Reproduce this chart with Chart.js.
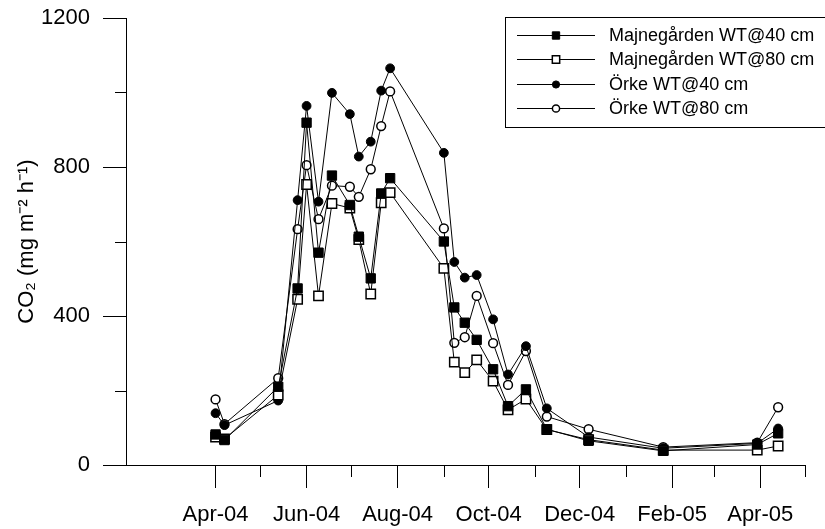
<!DOCTYPE html>
<html>
<head>
<meta charset="utf-8">
<title>CO2 flux</title>
<script src="https://cdn.jsdelivr.net/npm/chart.js"></script>
<style>
  html, body { margin: 0; padding: 0; background: #fff; }
  #chart { display: block; }
</style>
</head>
<body>
<canvas id="chart" width="825" height="529"></canvas>
<script>
// --- data ---
const sampleDates = [
    '2004-04-01', '2004-04-07', '2004-05-13', '2004-05-26', '2004-06-01', '2004-06-09',
    '2004-06-18', '2004-06-30', '2004-07-06', '2004-07-14', '2004-07-21', '2004-07-27',
    '2004-09-01', '2004-09-08', '2004-09-15', '2004-09-23', '2004-10-04', '2004-10-14',
    '2004-10-26', '2004-11-09', '2004-12-07', '2005-01-26', '2005-03-30', '2005-04-13'
];
const majne40 = [82, 67, 210, 474, 919, 570, 777, 698, 613, 501, 729, 770,
                 600, 423, 382, 336, 257, 158, 203, 96, 65, 38, 55, 85];
const majne80 = [75, 70, 188, 445, 753, 454, 702, 690, 605, 459, 704, 731,
                 528, 276, 248, 282, 225, 148, 177, 95, 68, 40, 40, 51];
const orke40 = [139, 107, 173, 711, 964, 707, 999, 942, 828, 868, 1005, 1065,
                838, 545, 503, 510, 391, 243, 319, 152, 75, 45, 58, 98];
const orke80 = [176, 110, 233, 633, 805, 660, 750, 747, 720, 794, 910, 1003,
                635, 328, 343, 454, 327, 215, 306, 130, 96, 48, 60, 155];

const seriesLabels = ['Majnegården WT@40 cm', 'Majnegården WT@80 cm', 'Örke WT@40 cm', 'Örke WT@80 cm'];

// axis ticks
const xStart = '2004-02-01';
const xEnd = '2005-05-01';
const xMajor = ['2004-04-01', '2004-06-01', '2004-08-01', '2004-10-01', '2004-12-01', '2005-02-01', '2005-04-01'];
const xMajorLabels = ['Apr-04', 'Jun-04', 'Aug-04', 'Oct-04', 'Dec-04', 'Feb-05', 'Apr-05'];
const xMinor = ['2004-05-01', '2004-07-01', '2004-09-01', '2004-11-01', '2005-01-01', '2005-03-01', '2005-05-01'];
const yMajor = [0, 400, 800, 1200];
const yMinor = [200, 600, 1000];

const toDay = s => Date.parse(s) / 86400000;

function points(values) {
    return sampleDates.map((d, i) => ({ x: toDay(d), y: values[i] }));
}

Chart.defaults.font.family = "'Liberation Sans', Arial, sans-serif";
Chart.defaults.color = '#000';

// small ticks between the labelled ones
const minorTicks = {
    id: 'minorTicks',
    afterDraw(chart) {
        const { ctx, chartArea, scales } = chart;
        ctx.save();
        ctx.strokeStyle = '#000';
        ctx.lineWidth = 1;
        ctx.beginPath();
        xMinor.forEach(d => {
            const px = Math.round(scales.x.getPixelForValue(toDay(d))) + 0.5;
            ctx.moveTo(px, chartArea.bottom);
            ctx.lineTo(px, chartArea.bottom + 12);
        });
        yMinor.forEach(v => {
            const py = Math.round(scales.y.getPixelForValue(v)) + 0.5;
            ctx.moveTo(chartArea.left - 11, py);
            ctx.lineTo(chartArea.left, py);
        });
        ctx.stroke();
        ctx.restore();
    }
};

function drawMarker(ctx, style, filled, x, y, r) {
    ctx.beginPath();
    if (style === 'rect') {
        const s = r * Math.SQRT1_2;
        ctx.rect(x - s, y - s, 2 * s, 2 * s);
    } else {
        ctx.arc(x, y, r, 0, Math.PI * 2);
    }
    ctx.fillStyle = filled ? '#000' : '#fff';
    ctx.fill();
    ctx.stroke();
}

// boxed legend in the upper right corner, line + marker like the original
const boxLegend = {
    id: 'boxLegend',
    afterDraw(chart) {
        const ctx = chart.ctx;
        const left = 505, top = 17, rowH = 24.4;
        ctx.save();
        ctx.fillStyle = '#fff';
        ctx.fillRect(left, top, 340, 110);
        ctx.strokeStyle = '#000';
        ctx.lineWidth = 1;
        ctx.strokeRect(left + 0.5, top + 0.5, 340, 110);
        ctx.font = "18px 'Liberation Sans', Arial, sans-serif";
        ctx.textBaseline = 'middle';
        chart.data.datasets.forEach((ds, i) => {
            const y = top + 18 + i * rowH;
            ctx.lineWidth = 1;
            ctx.beginPath();
            ctx.moveTo(517, Math.round(y) + 0.5);
            ctx.lineTo(595, Math.round(y) + 0.5);
            ctx.stroke();
            ctx.lineWidth = ds.pointBorderWidth;
            const r = ds.pointStyle === 'rect' ? 5.2 : 3.6;
            drawMarker(ctx, ds.pointStyle, ds.pointBackgroundColor === '#000', 556, Math.round(y) + 0.5, r);
            ctx.fillStyle = '#000';
            ctx.fillText(ds.label, 609, y + 1);
        });
        ctx.restore();
    }
};

function seriesSet(label, values, style, filled) {
    return {
        label: label,
        data: points(values),
        borderColor: '#000',
        borderWidth: 1,
        pointStyle: style,
        pointRadius: style === 'rect' ? 6.6 : 4.4,
        pointBackgroundColor: filled ? '#000' : '#fff',
        pointBorderColor: '#000',
        pointBorderWidth: filled ? 1 : 1.5,
        tension: 0
    };
}

new Chart(document.getElementById('chart'), {
    type: 'line',
    data: {
        datasets: [
            seriesSet(seriesLabels[0], majne40, 'rect', true),
            seriesSet(seriesLabels[1], majne80, 'rect', false),
            seriesSet(seriesLabels[2], orke40, 'circle', true),
            seriesSet(seriesLabels[3], orke80, 'circle', false)
        ]
    },
    options: {
        responsive: false,
        animation: false,
        layout: { padding: { top: 18, right: 20, bottom: 0, left: 0 } },
        plugins: {
            legend: { display: false },
            tooltip: { enabled: false }
        },
        scales: {
            x: {
                type: 'linear',
                min: toDay(xStart),
                max: toDay(xEnd),
                afterBuildTicks: scale => { scale.ticks = xMajor.map(d => ({ value: toDay(d) })); },
                afterFit: scale => { scale.height = 64; },
                ticks: {
                    autoSkip: false,
                    maxRotation: 0,
                    padding: 14,
                    font: { size: 22 },
                    callback: (value, index) => xMajorLabels[index]
                },
                grid: { drawOnChartArea: false, tickLength: 23, tickColor: '#000', color: '#000' },
                border: { display: true, color: '#000', width: 1 }
            },
            y: {
                min: 0,
                max: 1200,
                afterBuildTicks: scale => { scale.ticks = yMajor.map(v => ({ value: v })); },
                afterFit: scale => {
                    scale.width = 126;
                    // the top label fits inside the layout padding
                    scale.paddingTop = 0;
                    scale.paddingBottom = 0;
                },
                ticks: {
                    padding: 13,
                    font: { size: 22 },
                    callback: value => String(value)
                },
                grid: { drawOnChartArea: false, tickLength: 23, tickColor: '#000', color: '#000' },
                border: { display: true, color: '#000', width: 1 },
                title: {
                    display: true,
                    text: 'CO₂ (mg m⁻² h⁻¹)',
                    font: { size: 22 },
                    padding: { top: 14, bottom: 0 }
                }
            }
        }
    },
    plugins: [minorTicks, boxLegend]
});
</script>
</body>
</html>
